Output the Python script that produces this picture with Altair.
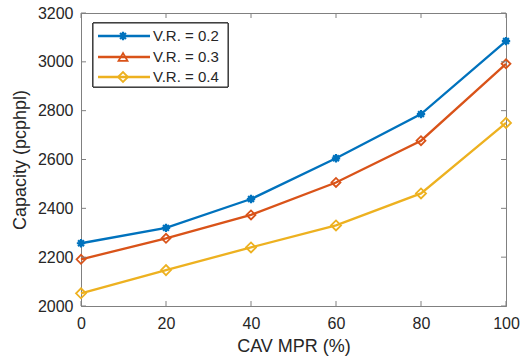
import altair as alt
import pandas as pd

mpr = [0, 20, 40, 60, 80, 100]
vr02 = [2257, 2320, 2438, 2605, 2786, 3085]
vr03 = [2191, 2277, 2373, 2506, 2677, 2992]
vr04 = [2052, 2147, 2240, 2330, 2461, 2750]
series = ["V.R. = 0.2", "V.R. = 0.3", "V.R. = 0.4"]
colors = ["#0072BD", "#D95319", "#EDB120"]
x_ticks = [0, 20, 40, 60, 80, 100]
y_ticks = [2000, 2200, 2400, 2600, 2800, 3000, 3200]

W, H = 425, 293
FONT = "Liberation Sans"
ASTER = "M-1,0L1,0M0,-1L0,1M-0.7,-0.7L0.7,0.7M-0.7,0.7L0.7,-0.7"

rows = []
for name, vals in zip(series, [vr02, vr03, vr04]):
    for m, v in zip(mpr, vals):
        rows.append({"mpr": m, "cap": v, "series": name})
df = pd.DataFrame(rows)

xs = alt.Scale(domain=[0, 100], nice=False)
ys = alt.Scale(domain=[2000, 3200], nice=False)

X = alt.X("mpr:Q", scale=xs, title="CAV MPR (%)",
          axis=alt.Axis(values=x_ticks, tickSize=0, labelPadding=9, grid=False,
                        labelFlush=False, labelOverlap=False, format="d",
                        domainColor="#808080", labelColor="#262626", titleColor="#262626",
                        labelFont=FONT, labelFontSize=16, titleFont=FONT, titleFontSize=18,
                        titleFontWeight="normal", titlePadding=6))
Y = alt.Y("cap:Q", scale=ys, title="Capacity (pcphpl)",
          axis=alt.Axis(values=y_ticks, tickSize=0, labelPadding=8, grid=False,
                        labelFlush=False, labelOverlap=False, format="d",
                        domainColor="#808080", labelColor="#262626", titleColor="#262626",
                        labelFont=FONT, labelFontSize=16, titleFont=FONT, titleFontSize=18,
                        titleFontWeight="normal", titlePadding=8))

layers = []
marker_shapes = [ASTER, "diamond", "diamond"]
marker_sizes = [70, 80, 100]
for name, col, shp, sz in zip(series, colors, marker_shapes, marker_sizes):
    sub = alt.Chart(df).transform_filter(alt.datum.series == name)
    layers.append(sub.mark_line(color=col, strokeWidth=2.3).encode(x=X, y=Y))
    layers.append(sub.mark_point(shape=shp, size=sz, color=col, filled=False,
                                 strokeWidth=2.2 if shp == ASTER else 1.8, opacity=1).encode(x=X, y=Y))

# inward ticks (MATLAB style, all four sides)
xt = pd.DataFrame({"mpr": x_ticks})
yt = pd.DataFrame({"cap": y_ticks})
tick_color = "#808080"
layers.append(alt.Chart(xt).mark_rule(color=tick_color, strokeWidth=1).encode(
    x=X, y=alt.value(H), y2=alt.value(H - 5)))
layers.append(alt.Chart(xt).mark_rule(color=tick_color, strokeWidth=1).encode(
    x=X, y=alt.value(0), y2=alt.value(5)))
layers.append(alt.Chart(yt).mark_rule(color=tick_color, strokeWidth=1).encode(
    y=Y, x=alt.value(0), x2=alt.value(5)))
layers.append(alt.Chart(yt).mark_rule(color=tick_color, strokeWidth=1).encode(
    y=Y, x=alt.value(W), x2=alt.value(W - 5)))

# legend box
leg_df = pd.DataFrame({"series": series})
layers.append(alt.Chart(leg_df).mark_rect(fill="white", stroke="#262626", strokeWidth=1).encode(
    x=alt.value(12), x2=alt.value(147), y=alt.value(10), y2=alt.value(74)))
legend_shapes = [ASTER, "triangle-up", "diamond"]
legend_sizes = [70, 80, 100]
row_y = [23, 44, 64]
for name, col, shp, sz, yy in zip(series, colors, legend_shapes, legend_sizes, row_y):
    one = alt.Chart(pd.DataFrame({"series": [name]}))
    layers.append(one.mark_rule(color=col, strokeWidth=2.3).encode(
        x=alt.value(17), x2=alt.value(69), y=alt.value(yy)))
    layers.append(one.mark_point(shape=shp, size=sz, color=col, filled=False,
                                 strokeWidth=2.2 if shp == ASTER else 1.8, opacity=1).encode(
        x=alt.value(42), y=alt.value(yy)))
    layers.append(one.mark_text(align="left", baseline="middle", font=FONT, fontSize=15,
                                color="#262626").encode(
        x=alt.value(72), y=alt.value(yy), text="series:N"))

chart = alt.layer(*layers).properties(
    width=W, height=H,
    autosize=alt.AutoSizeParams(type="none"),
    padding={"left": 81, "top": 13, "right": 14, "bottom": 54},
    background="white",
).configure_view(stroke="#808080", strokeWidth=1)

chart.save("out.html", embed_options={"renderer": "svg", "actions": False})
